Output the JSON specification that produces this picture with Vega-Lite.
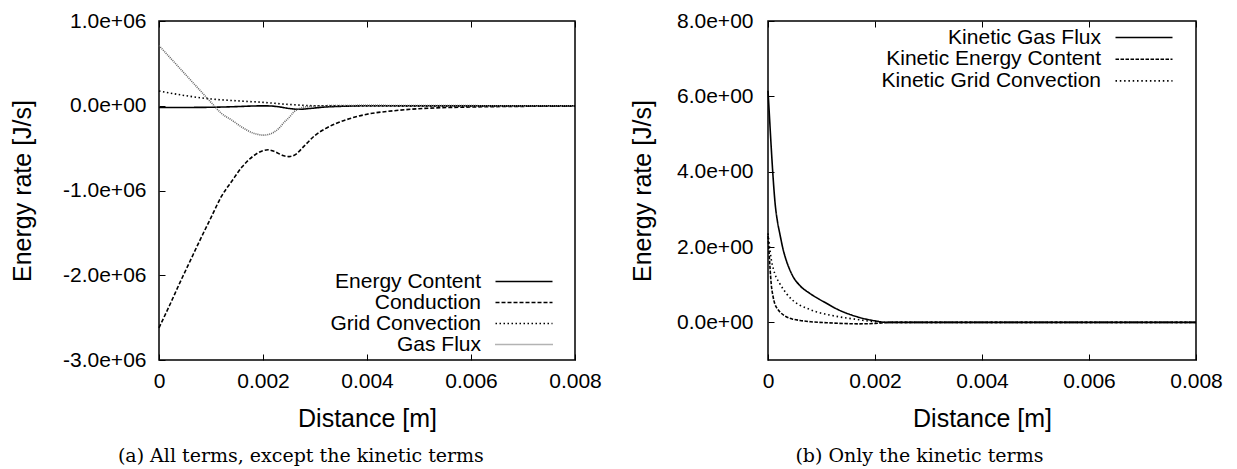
{
  "$schema": "https://vega.github.io/schema/vega-lite/v6.json",
  "background": "white",
  "padding": {"left": 9, "top": 9, "right": 5, "bottom": 5},
  "spacing": 26,
  "config": {
    "font": "Liberation Sans",
    "view": {"stroke": "black", "strokeWidth": 1.5},
    "line": {"color": "black"},
    "axis": {
      "domain": false, "grid": false, "labelFlush": false,
      "tickColor": "black", "tickSize": -6, "tickWidth": 1,
      "labelFont": "Liberation Sans", "labelFontSize": 21, "labelColor": "black",
      "titleFont": "Liberation Sans", "titleFontSize": 25, "titleFontWeight": "normal", "titleColor": "black"
    },
    "legend": {
      "title": null, "orient": "none", "padding": 0, "rowPadding": -1,
      "labelAlign": "right", "labelOffset": -53.5, "symbolOffset": 18.5,
      "symbolType": "M-5.7,0H5.7", "symbolSize": 100, "symbolStrokeWidth": 1.6,
      "labelFont": "Liberation Sans", "labelFontSize": 21, "labelColor": "black", "labelLimit": 500
    },
    "title": {"font": "DejaVu Serif", "fontSize": 19, "fontWeight": "normal", "color": "black", "orient": "bottom", "frame": "bounds", "anchor": "middle", "offset": 16}
  },
  "datasets": {
    "terms": [
      {"series": "Energy Content", "distance": 0, "rate": -20000},
      {"series": "Energy Content", "distance": 0.0005, "rate": -20000},
      {"series": "Energy Content", "distance": 0.001, "rate": -18000},
      {"series": "Energy Content", "distance": 0.0015, "rate": -10000},
      {"series": "Energy Content", "distance": 0.0019, "rate": -2000},
      {"series": "Energy Content", "distance": 0.0021, "rate": -2000},
      {"series": "Energy Content", "distance": 0.0023, "rate": -12000},
      {"series": "Energy Content", "distance": 0.0025, "rate": -32000},
      {"series": "Energy Content", "distance": 0.0027, "rate": -42000},
      {"series": "Energy Content", "distance": 0.0029, "rate": -32000},
      {"series": "Energy Content", "distance": 0.0032, "rate": -15000},
      {"series": "Energy Content", "distance": 0.0036, "rate": -5000},
      {"series": "Energy Content", "distance": 0.004, "rate": 0},
      {"series": "Energy Content", "distance": 0.005, "rate": 0},
      {"series": "Energy Content", "distance": 0.006, "rate": 0},
      {"series": "Energy Content", "distance": 0.007, "rate": 0},
      {"series": "Energy Content", "distance": 0.008, "rate": 0},
      {"series": "Conduction", "distance": 0, "rate": -2620000},
      {"series": "Conduction", "distance": 0.0002, "rate": -2360000},
      {"series": "Conduction", "distance": 0.0004, "rate": -2090000},
      {"series": "Conduction", "distance": 0.0006, "rate": -1830000},
      {"series": "Conduction", "distance": 0.0008, "rate": -1570000},
      {"series": "Conduction", "distance": 0.001, "rate": -1320000},
      {"series": "Conduction", "distance": 0.0012, "rate": -1070000},
      {"series": "Conduction", "distance": 0.0014, "rate": -890000},
      {"series": "Conduction", "distance": 0.0016, "rate": -720000},
      {"series": "Conduction", "distance": 0.0018, "rate": -600000},
      {"series": "Conduction", "distance": 0.002, "rate": -530000},
      {"series": "Conduction", "distance": 0.0021, "rate": -520000},
      {"series": "Conduction", "distance": 0.0022, "rate": -535000},
      {"series": "Conduction", "distance": 0.0024, "rate": -590000},
      {"series": "Conduction", "distance": 0.0025, "rate": -600000},
      {"series": "Conduction", "distance": 0.0026, "rate": -585000},
      {"series": "Conduction", "distance": 0.0028, "rate": -470000},
      {"series": "Conduction", "distance": 0.003, "rate": -350000},
      {"series": "Conduction", "distance": 0.0032, "rate": -270000},
      {"series": "Conduction", "distance": 0.0034, "rate": -210000},
      {"series": "Conduction", "distance": 0.0036, "rate": -165000},
      {"series": "Conduction", "distance": 0.004, "rate": -100000},
      {"series": "Conduction", "distance": 0.0045, "rate": -60000},
      {"series": "Conduction", "distance": 0.005, "rate": -35000},
      {"series": "Conduction", "distance": 0.006, "rate": -15000},
      {"series": "Conduction", "distance": 0.007, "rate": -7000},
      {"series": "Conduction", "distance": 0.008, "rate": -4000},
      {"series": "Grid Convection", "distance": 0, "rate": 174000},
      {"series": "Grid Convection", "distance": 0.0005, "rate": 120000},
      {"series": "Grid Convection", "distance": 0.001, "rate": 80000},
      {"series": "Grid Convection", "distance": 0.0015, "rate": 58000},
      {"series": "Grid Convection", "distance": 0.002, "rate": 40000},
      {"series": "Grid Convection", "distance": 0.0025, "rate": 15000},
      {"series": "Grid Convection", "distance": 0.003, "rate": 0},
      {"series": "Grid Convection", "distance": 0.004, "rate": -3000},
      {"series": "Grid Convection", "distance": 0.005, "rate": -4000},
      {"series": "Grid Convection", "distance": 0.006, "rate": -4000},
      {"series": "Grid Convection", "distance": 0.007, "rate": -4000},
      {"series": "Grid Convection", "distance": 0.008, "rate": -4000},
      {"series": "Gas Flux", "distance": 0, "rate": 710000},
      {"series": "Gas Flux", "distance": 0.0002, "rate": 576000},
      {"series": "Gas Flux", "distance": 0.0004, "rate": 442000},
      {"series": "Gas Flux", "distance": 0.0006, "rate": 308000},
      {"series": "Gas Flux", "distance": 0.0008, "rate": 174000},
      {"series": "Gas Flux", "distance": 0.001, "rate": 40000},
      {"series": "Gas Flux", "distance": 0.0012, "rate": -90000},
      {"series": "Gas Flux", "distance": 0.0014, "rate": -170000},
      {"series": "Gas Flux", "distance": 0.0016, "rate": -255000},
      {"series": "Gas Flux", "distance": 0.0018, "rate": -320000},
      {"series": "Gas Flux", "distance": 0.0019, "rate": -338000},
      {"series": "Gas Flux", "distance": 0.002, "rate": -347000},
      {"series": "Gas Flux", "distance": 0.0021, "rate": -340000},
      {"series": "Gas Flux", "distance": 0.0022, "rate": -315000},
      {"series": "Gas Flux", "distance": 0.0023, "rate": -270000},
      {"series": "Gas Flux", "distance": 0.0024, "rate": -200000},
      {"series": "Gas Flux", "distance": 0.0025, "rate": -140000},
      {"series": "Gas Flux", "distance": 0.0026, "rate": -70000},
      {"series": "Gas Flux", "distance": 0.0027, "rate": -35000},
      {"series": "Gas Flux", "distance": 0.0028, "rate": -15000},
      {"series": "Gas Flux", "distance": 0.003, "rate": -3000},
      {"series": "Gas Flux", "distance": 0.0035, "rate": 3000},
      {"series": "Gas Flux", "distance": 0.004, "rate": 4000},
      {"series": "Gas Flux", "distance": 0.005, "rate": 3000},
      {"series": "Gas Flux", "distance": 0.006, "rate": 1000},
      {"series": "Gas Flux", "distance": 0.008, "rate": 0}
    ],
    "kinetic": [
      {"series": "Kinetic Gas Flux", "distance": 0, "rate": 6.15},
      {"series": "Kinetic Gas Flux", "distance": 0.00003, "rate": 5.4},
      {"series": "Kinetic Gas Flux", "distance": 0.00006, "rate": 4.65},
      {"series": "Kinetic Gas Flux", "distance": 0.0001, "rate": 3.75},
      {"series": "Kinetic Gas Flux", "distance": 0.00013, "rate": 3.2},
      {"series": "Kinetic Gas Flux", "distance": 0.00018, "rate": 2.65},
      {"series": "Kinetic Gas Flux", "distance": 0.00022, "rate": 2.36},
      {"series": "Kinetic Gas Flux", "distance": 0.00028, "rate": 1.95},
      {"series": "Kinetic Gas Flux", "distance": 0.00034, "rate": 1.65},
      {"series": "Kinetic Gas Flux", "distance": 0.0004, "rate": 1.42},
      {"series": "Kinetic Gas Flux", "distance": 0.00047, "rate": 1.21},
      {"series": "Kinetic Gas Flux", "distance": 0.0006, "rate": 0.97},
      {"series": "Kinetic Gas Flux", "distance": 0.00078, "rate": 0.77},
      {"series": "Kinetic Gas Flux", "distance": 0.00095, "rate": 0.62},
      {"series": "Kinetic Gas Flux", "distance": 0.0011, "rate": 0.5},
      {"series": "Kinetic Gas Flux", "distance": 0.00125, "rate": 0.38},
      {"series": "Kinetic Gas Flux", "distance": 0.0014, "rate": 0.28},
      {"series": "Kinetic Gas Flux", "distance": 0.00155, "rate": 0.2},
      {"series": "Kinetic Gas Flux", "distance": 0.00171, "rate": 0.13},
      {"series": "Kinetic Gas Flux", "distance": 0.00185, "rate": 0.08},
      {"series": "Kinetic Gas Flux", "distance": 0.002, "rate": 0.04},
      {"series": "Kinetic Gas Flux", "distance": 0.0022, "rate": 0},
      {"series": "Kinetic Gas Flux", "distance": 0.003, "rate": 0},
      {"series": "Kinetic Gas Flux", "distance": 0.004, "rate": 0},
      {"series": "Kinetic Gas Flux", "distance": 0.005, "rate": 0},
      {"series": "Kinetic Gas Flux", "distance": 0.006, "rate": 0},
      {"series": "Kinetic Gas Flux", "distance": 0.007, "rate": 0},
      {"series": "Kinetic Gas Flux", "distance": 0.008, "rate": 0},
      {"series": "Kinetic Energy Content", "distance": 0, "rate": 2.3},
      {"series": "Kinetic Energy Content", "distance": 0.00002, "rate": 1.85},
      {"series": "Kinetic Energy Content", "distance": 0.00004, "rate": 1.4},
      {"series": "Kinetic Energy Content", "distance": 0.00006, "rate": 1.02},
      {"series": "Kinetic Energy Content", "distance": 0.00009, "rate": 0.72},
      {"series": "Kinetic Energy Content", "distance": 0.000125, "rate": 0.5},
      {"series": "Kinetic Energy Content", "distance": 0.00017, "rate": 0.37},
      {"series": "Kinetic Energy Content", "distance": 0.00022, "rate": 0.28},
      {"series": "Kinetic Energy Content", "distance": 0.00034, "rate": 0.15},
      {"series": "Kinetic Energy Content", "distance": 0.00045, "rate": 0.09},
      {"series": "Kinetic Energy Content", "distance": 0.0006, "rate": 0.05},
      {"series": "Kinetic Energy Content", "distance": 0.0008, "rate": 0.015},
      {"series": "Kinetic Energy Content", "distance": 0.0011, "rate": -0.01},
      {"series": "Kinetic Energy Content", "distance": 0.0014, "rate": -0.03},
      {"series": "Kinetic Energy Content", "distance": 0.0017, "rate": -0.04},
      {"series": "Kinetic Energy Content", "distance": 0.002, "rate": -0.03},
      {"series": "Kinetic Energy Content", "distance": 0.0023, "rate": 0},
      {"series": "Kinetic Energy Content", "distance": 0.003, "rate": 0},
      {"series": "Kinetic Energy Content", "distance": 0.004, "rate": 0},
      {"series": "Kinetic Energy Content", "distance": 0.005, "rate": 0},
      {"series": "Kinetic Energy Content", "distance": 0.006, "rate": 0},
      {"series": "Kinetic Energy Content", "distance": 0.007, "rate": 0},
      {"series": "Kinetic Energy Content", "distance": 0.008, "rate": 0},
      {"series": "Kinetic Grid Convection", "distance": 0, "rate": 2.36},
      {"series": "Kinetic Grid Convection", "distance": 0.00003, "rate": 2.0},
      {"series": "Kinetic Grid Convection", "distance": 0.00006, "rate": 1.68},
      {"series": "Kinetic Grid Convection", "distance": 0.0001, "rate": 1.42},
      {"series": "Kinetic Grid Convection", "distance": 0.00013, "rate": 1.28},
      {"series": "Kinetic Grid Convection", "distance": 0.00022, "rate": 1.03},
      {"series": "Kinetic Grid Convection", "distance": 0.00034, "rate": 0.77},
      {"series": "Kinetic Grid Convection", "distance": 0.00045, "rate": 0.6},
      {"series": "Kinetic Grid Convection", "distance": 0.00059, "rate": 0.46},
      {"series": "Kinetic Grid Convection", "distance": 0.00075, "rate": 0.36},
      {"series": "Kinetic Grid Convection", "distance": 0.0009, "rate": 0.28},
      {"series": "Kinetic Grid Convection", "distance": 0.0011, "rate": 0.21},
      {"series": "Kinetic Grid Convection", "distance": 0.0014, "rate": 0.13},
      {"series": "Kinetic Grid Convection", "distance": 0.0017, "rate": 0.07},
      {"series": "Kinetic Grid Convection", "distance": 0.0019, "rate": 0.03},
      {"series": "Kinetic Grid Convection", "distance": 0.0022, "rate": 0},
      {"series": "Kinetic Grid Convection", "distance": 0.003, "rate": 0},
      {"series": "Kinetic Grid Convection", "distance": 0.004, "rate": 0},
      {"series": "Kinetic Grid Convection", "distance": 0.005, "rate": 0},
      {"series": "Kinetic Grid Convection", "distance": 0.006, "rate": 0},
      {"series": "Kinetic Grid Convection", "distance": 0.007, "rate": 0},
      {"series": "Kinetic Grid Convection", "distance": 0.008, "rate": 0}
    ]
  },
  "resolve": {
    "scale": {"strokeDash": "independent", "color": "independent"},
    "legend": {"strokeDash": "independent", "color": "independent"}
  },
  "hconcat": [
    {
      "width": 416,
      "height": 339,
      "title": {"text": "(a) All terms, except the kinetic terms", "dx": -5},
      "data": {"name": "terms"},
      "resolve": {"axis": {"x": "independent"}},
      "layer": [
        {
          "mark": {"type": "line", "strokeWidth": 1.6, "interpolate": "monotone"},
          "encoding": {
            "x": {
              "field": "distance", "type": "quantitative",
              "scale": {"domain": [0, 0.008], "nice": false, "zero": false},
              "axis": {"title": "Distance [m]", "values": [0, 0.002, 0.004, 0.006, 0.008],
                       "labelExpr": "datum.value == 0 ? '0' : format(datum.value, '.3f')",
                       "labelPadding": 16, "titlePadding": 15}
            },
            "y": {
              "field": "rate", "type": "quantitative",
              "scale": {"domain": [-3000000, 1000000], "nice": false, "zero": false},
              "axis": {"title": "Energy rate [J/s]", "values": [-3000000, -2000000, -1000000, 0, 1000000],
                       "labelExpr": "datum.value == 0 ? '0.0e+00' : (datum.value < 0 ? '-' : '') + format(abs(datum.value) / 1000000, '.1f') + 'e+06'",
                       "labelPadding": 19, "titlePadding": 27}
            },
            "strokeDash": {
              "field": "series", "type": "nominal",
              "scale": {"domain": ["Energy Content", "Conduction", "Grid Convection", "Gas Flux"],
                        "range": [[1, 0], [4, 2], [1.5, 2.5], [1, 1]]},
              "legend": {"legendX": 336, "legendY": 250, "symbolType": "M-5.7,0H5.7", "rowPadding": -1}
            },
            "color": {
              "field": "series", "type": "nominal",
              "scale": {"domain": ["Energy Content", "Conduction", "Grid Convection", "Gas Flux"],
                        "range": ["#000000", "#000000", "#000000", "#666666"]},
              "legend": {"legendX": 336, "legendY": 250, "symbolType": "M-5.7,0H5.7", "rowPadding": -1}
            }
          }
        },
        {
          "mark": {"type": "line", "opacity": 0},
          "encoding": {
            "x": {
              "field": "distance", "type": "quantitative",
              "axis": {"orient": "top", "title": null, "labels": false, "values": [0, 0.002, 0.004, 0.006, 0.008]}
            },
            "y": {"field": "rate", "type": "quantitative"},
            "detail": {"field": "series", "type": "nominal"}
          }
        }
      ]
    },
    {
      "width": 428,
      "height": 339,
      "title": {"text": "(b) Only the kinetic terms", "dx": -7},
      "data": {"name": "kinetic"},
      "resolve": {"axis": {"x": "independent"}},
      "layer": [
        {
          "mark": {"type": "line", "strokeWidth": 1.6, "interpolate": "monotone", "color": "black"},
          "encoding": {
            "x": {
              "field": "distance", "type": "quantitative",
              "scale": {"domain": [0, 0.008], "nice": false, "zero": false},
              "axis": {"title": "Distance [m]", "values": [0, 0.002, 0.004, 0.006, 0.008],
                       "labelExpr": "datum.value == 0 ? '0' : format(datum.value, '.3f')",
                       "labelPadding": 16, "titlePadding": 15}
            },
            "y": {
              "field": "rate", "type": "quantitative",
              "scale": {"domain": [-1, 8], "nice": false, "zero": false},
              "axis": {"title": "Energy rate [J/s]", "values": [0, 2, 4, 6, 8],
                       "labelExpr": "format(datum.value, '.1f') + 'e+00'",
                       "labelPadding": 21, "titlePadding": 21}
            },
            "strokeDash": {
              "field": "series", "type": "nominal",
              "scale": {"domain": ["Kinetic Gas Flux", "Kinetic Energy Content", "Kinetic Grid Convection"],
                        "range": [[1, 0], [3.5, 1.5], [1.5, 2.8]]},
              "legend": {"legendX": 347, "legendY": 6, "symbolType": "M-5.7,0H5.7", "rowPadding": -0.3}
            }
          }
        },
        {
          "mark": {"type": "line", "opacity": 0},
          "encoding": {
            "x": {
              "field": "distance", "type": "quantitative",
              "axis": {"orient": "top", "title": null, "labels": false, "values": [0, 0.002, 0.004, 0.006, 0.008]}
            },
            "y": {"field": "rate", "type": "quantitative"},
            "detail": {"field": "series", "type": "nominal"}
          }
        }
      ]
    }
  ]
}
